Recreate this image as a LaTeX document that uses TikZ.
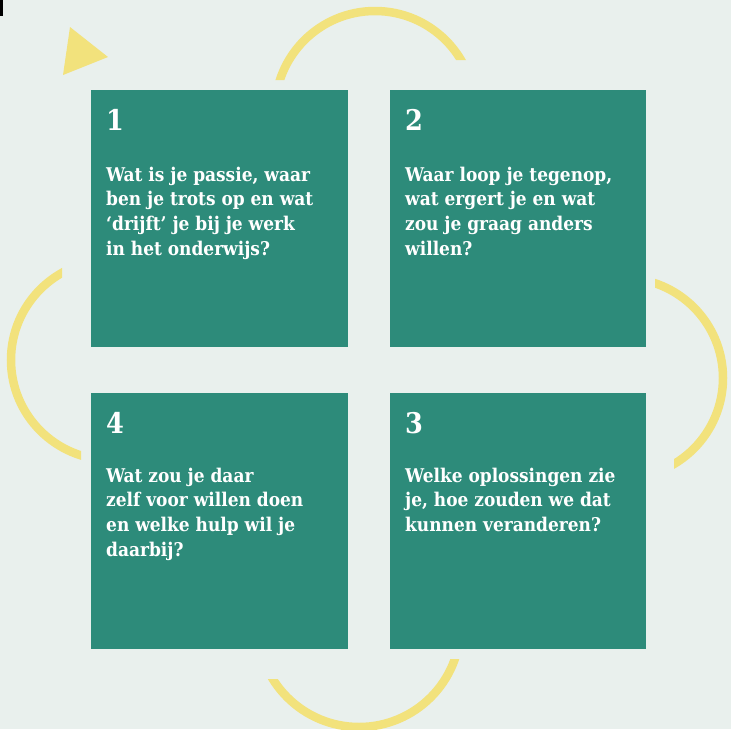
\documentclass[tikz,border=0pt]{standalone}
\usepackage{fontspec}
\IfFontExistsTF{DejaVu Serif Condensed}{\setmainfont{DejaVu Serif Condensed}}{\setmainfont{DejaVu Serif}[FakeStretch=0.88]}
\definecolor{bgcol}{RGB}{233,240,237}
\definecolor{cardgreen}{RGB}{45,139,122}
\definecolor{ringyellow}{RGB}{242,226,124}
\tikzset{
  card/.style={fill=cardgreen, draw=none, minimum width=256.5pt, minimum height=256.5pt, inner sep=0pt, anchor=north west},
  numtxt/.style={text=white, font=\bfseries\fontsize{28.5}{28.5}\selectfont, anchor=base west, inner sep=0pt},
  bodytxt/.style={text=white, anchor=base west, inner sep=0pt},
  ring/.style={draw=ringyellow, line width=8.5pt}
}
\newcommand{\cardbody}[1]{\parbox[t]{236pt}{\raggedright\bfseries\fontsize{18.9}{24.7}\selectfont #1}}
\begin{document}
\begin{tikzpicture}[x=1pt,y=-1pt]
\useasboundingbox (0,0) rectangle (731,729);
\fill[bgcol] (0,0) rectangle (731,729);
\fill[black] (0,0) rectangle (3,16);
% yellow triangle
\fill[ringyellow] (70,27) -- (108,57) -- (63,75) -- cycle;
% arcs
\begin{scope}
  \clip (200,0) -- (560,0) -- (560,60) -- (375,60) -- (375,80) -- (200,80) -- cycle;
  \draw[ring] (375,111) circle[radius=100pt];
\end{scope}
\begin{scope}
  \clip (0,200) -- (62,200) -- (62,360) -- (81,360) -- (81,520) -- (0,520) -- cycle;
  \draw[ring] (111,360) circle[radius=100pt];
\end{scope}
\begin{scope}
  \clip (655,200) -- (731,200) -- (731,560) -- (674,560) -- (674,378) -- (655,378) -- cycle;
  \draw[ring] (623,378) circle[radius=100pt];
\end{scope}
\begin{scope}
  \clip (200,679) -- (359,679) -- (359,659) -- (560,659) -- (560,740) -- (200,740) -- cycle;
  \draw[ring] (359,625.5) circle[radius=101.5pt];
\end{scope}
% cards
\node[card] (c1) at (91,90) {};
\node[card] (c2) at (389.5,90) {};
\node[card] (c4) at (91,392.5) {};
\node[card] (c3) at (389.5,392.5) {};
% numbers
\node[numtxt] (n1) at (106,130) {1};
\node[numtxt] (n2) at (405,130) {2};
\node[numtxt] (n4) at (106,433) {4};
\node[numtxt] (n3) at (405,433) {3};
% texts
\node[bodytxt] (t1) at (106,181) {\cardbody{Wat is je passie, waar\\ben je trots op en wat\\‘drijft’ je bij je werk\\in het onderwijs?}};
\node[bodytxt] (t2) at (405,181) {\cardbody{Waar loop je tegenop,\\wat ergert je en wat\\zou je graag anders\\willen?}};
\node[bodytxt] (t4) at (106,482) {\cardbody{Wat zou je daar\\zelf voor willen doen\\en welke hulp wil je\\daarbij?}};
\node[bodytxt] (t3) at (405,482) {\cardbody{Welke oplossingen zie\\je, hoe zouden we dat\\kunnen veranderen?}};
\end{tikzpicture}
\end{document}
